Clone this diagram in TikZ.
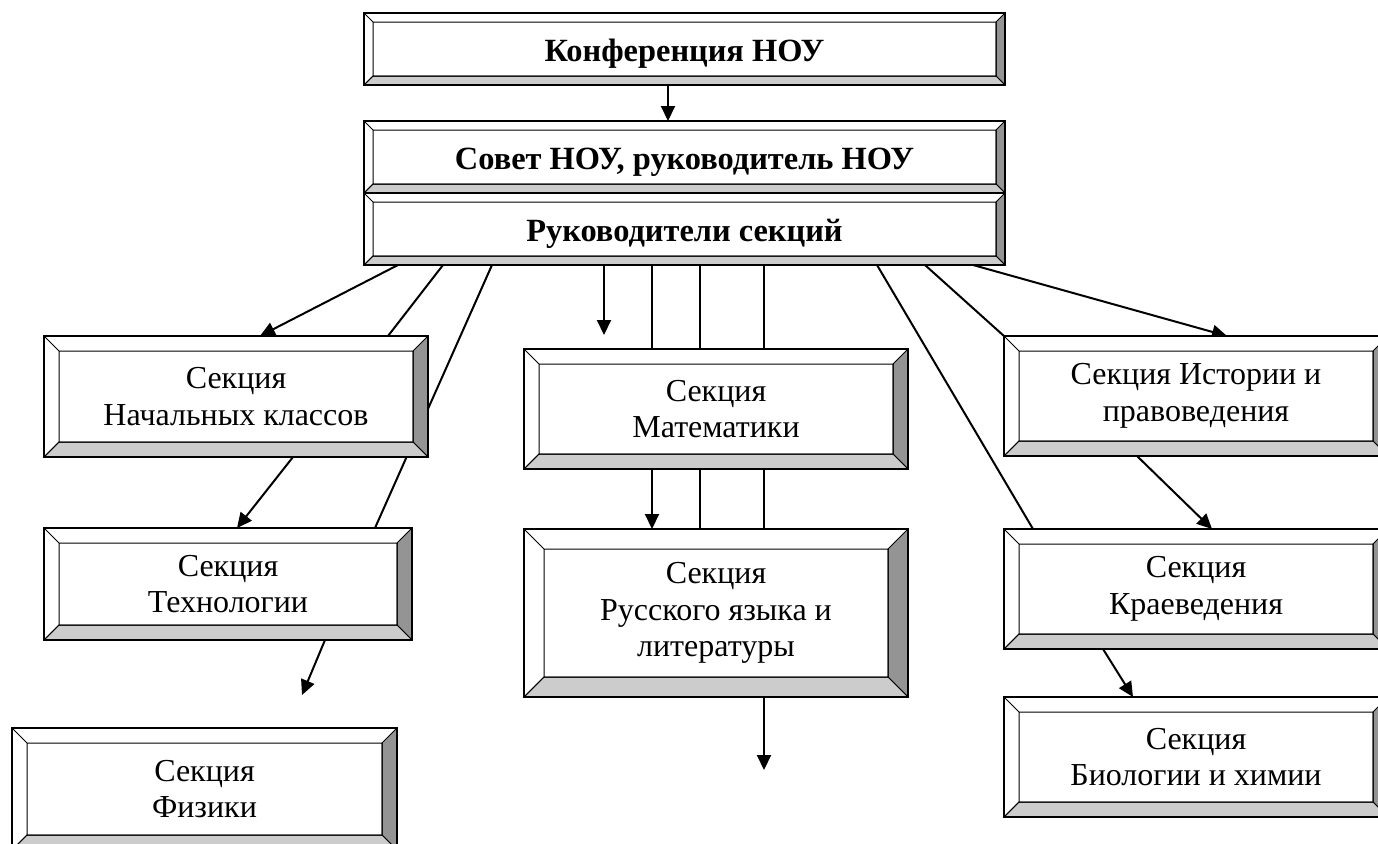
\documentclass[tikz,border=0pt]{standalone}
\usepackage{fontspec}
\setmainfont{Liberation Serif}
\usepackage{tikz}
\usetikzlibrary{arrows.meta,backgrounds}
\newcommand\secfont{\fontsize{16}{18.4}\selectfont}
\newcommand\topfont{\fontsize{16.2}{18.6}\selectfont\bfseries}
\tikzset{
  bev/.style  ={path picture={
                 \path (path picture bounding box.south west) coordinate (oA)
                       (path picture bounding box.north east) coordinate (oB);
                 \path (oA) ++(#1,#1) coordinate (iA) (oB) ++(-#1,-#1) coordinate (iB);
                 \filldraw[fill=black!42, line width=0.5pt] (oB) -- (iB) -- (iB|-iA) -- (oB|-oA) -- cycle;
                 \filldraw[fill=black!20, line width=0.5pt] (oA) -- (iA) -- (iB|-iA) -- (oB|-oA) -- cycle;
                 \draw[line width=0.5pt] (iA) rectangle (iB) (oA) -- (iA) (oA|-oB) -- (iA|-iB);}},
  bbox/.style ={rectangle, draw=black, line width=0.8pt, fill=white, inner sep=0pt,
                outer sep=0pt, align=center},
  head/.style ={bbox, bev=4.5pt, minimum width=320.5pt, minimum height=36pt, font=\topfont,
                text height=12.5pt, text depth=0pt},
  sect/.style ={bbox, bev=7.5pt, minimum width=192pt, minimum height=60pt, font=\secfont},
  arr/.style  ={-{Triangle[length=7.5pt,width=7pt]}, line width=1pt},
  ln/.style   ={line width=1pt},
}
\begin{document}
\begin{tikzpicture}[x=0.5pt, y=-0.5pt]
  \useasboundingbox (0,0) rectangle (1378,843);
  \node[head] (konf) at (684.5,49) {Конференция НОУ};
  \node[head] (sov) at (684.5,157) {Совет НОУ, руководитель НОУ};
  \node[head] (ruk) at (684.5,229) {Руководители секций};
  \node[sect, minimum height=60.5pt] (nach) at (236,396.5) {Секция\\Начальных классов};
  \node[sect, minimum width=184pt, minimum height=56pt] (tech) at (228,584) {Секция\\Технологии};
  \node[sect, minimum width=192.5pt, minimum height=61pt] (fiz) at (204.5,789) {Секция\\Физики};
  \node[sect] (mat) at (716,409) {Секция\\Математики};
  \node[sect, bev=10pt, minimum height=84pt] (rus) at (716,613) {Секция\\Русского языка и\\литературы};
  \node[sect] (ist) at (1196,396) {Секция Истории и\\правоведения};
  \node[sect] (kraev) at (1196,589) {Секция\\Краеведения};
  \node[sect] (bio) at (1196,757) {Секция\\Биологии и химии};
  \coordinate (m0) at (604,335);
  \coordinate (rend) at (764,770);
  \coordinate (tend) at (302,695);
  \begin{scope}[on background layer]
    \draw[arr] ([xshift=152pt]konf.south west) -- ([xshift=152pt]sov.north west);
    \draw[arr] ([xshift=17pt]ruk.south west) -- ([xshift=108pt]nach.north west);
    \draw[ln] ([xshift=39.5pt]ruk.south west) -- ([xshift=172pt]nach.north west);
    \draw[ln] ([xshift=64pt]ruk.south west) -- ([xshift=165.5pt]tech.north west);
    \draw[arr] ([xshift=120pt]ruk.south west) -- (m0);
    \foreach \d in {64,88,120}
      \draw[ln] ([xshift={\d pt+80pt}]ruk.south west) -- ([xshift=\d pt]mat.north west);
    \draw[arr] ([xshift=64pt]mat.south west) -- ([xshift=64pt]rus.north west);
    \foreach \d in {88,120}
      \draw[ln] ([xshift=\d pt]mat.south west) -- ([xshift=\d pt]rus.north west);
    \draw[arr] ([xshift=120pt]rus.south west) -- (rend);
    \draw[ln] ([xshift=256.5pt]ruk.south west) -- ([xshift=14.5pt]kraev.north west);
    \draw[ln] ([xshift=280.5pt]ruk.south west) -- (ist.north west);
    \draw[arr] ([xshift=304.5pt]ruk.south west) -- ([xshift=111.5pt]ist.north west);
    \draw[arr] ([xshift=124.5pt]nach.south west) -- ([xshift=96.5pt]tech.north west);
    \draw[arr] ([xshift=140.5pt]tech.south west) -- (tend);
    \draw[arr] ([xshift=66.5pt]ist.south west) -- ([xshift=104pt]kraev.north west);
    \draw[arr] ([xshift=49.5pt]kraev.south west) -- ([xshift=64.5pt]bio.north west);
  \end{scope}
\end{tikzpicture}
\end{document}
